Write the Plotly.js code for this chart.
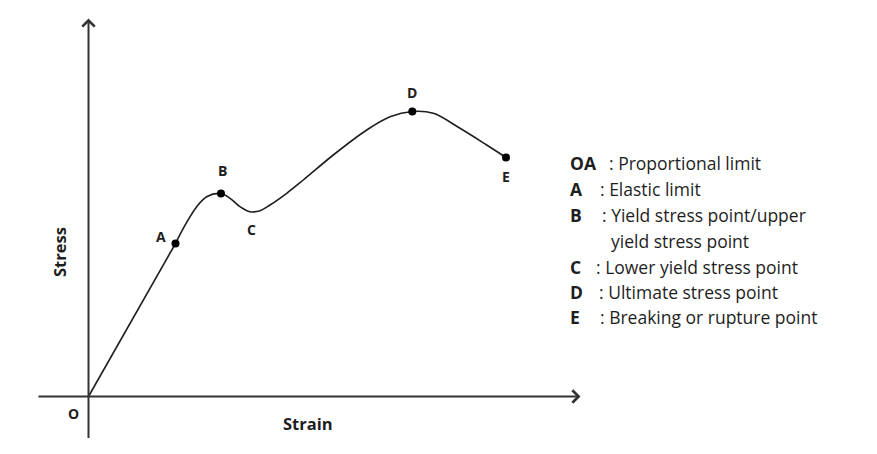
<!DOCTYPE html>
<html>
<head>
<meta charset="utf-8">
<script src="https://cdn.plot.ly/plotly-3.0.1.min.js"></script>
<style>html,body{margin:0;padding:0;background:#fff;}#chart{width:877px;height:454px;}</style>
</head>
<body>
<div id="chart"></div>
<script>
// Elastic (proportional) segment O -> A
const elasticStrain = [0, 0.87];
const elasticStress = [0, 1.53];

// Plastic curve A -> B -> C -> D -> E
const curveStrain = [0.87, 0.948, 1.082, 1.182, 1.325, 1.415, 1.515, 1.615, 1.715, 1.815, 1.982, 2.148, 2.448, 2.782, 3.015, 3.238, 3.448, 3.715, 3.982, 4.175];
const curveStress = [1.53, 1.682, 1.898, 1.998, 2.03, 1.982, 1.898, 1.848, 1.858, 1.915, 2.032, 2.165, 2.415, 2.665, 2.798, 2.85, 2.832, 2.682, 2.515, 2.39];

// Marked points
const pointNames = ["A", "B", "D", "E"];
const pointStrain = [0.87, 1.325, 3.238, 4.175];
const pointStress = [1.53, 2.03, 2.85, 2.39];

// Point labels
const labelText = ["O", "A", "B", "C", "D", "E"];
const labelStrain = [-0.152, 0.722, 1.342, 1.632, 3.232, 4.172];
const labelStress = [-0.168, 1.605, 2.258, 1.675, 3.045, 2.205];

// Axis extents
const xAxisStart = -0.515, xAxisEnd = 4.92;
const yAxisStart = -0.43, yAxisEnd = 3.78;

// Legend text
const legendKeys = ["OA", "A", "B", "", "C", "D", "E"];
const legendDesc = [": Proportional limit", ": Elastic limit", ": Yield stress point/upper", "yield stress point", ": Lower yield stress point", ": Ultimate stress point", ": Breaking or rupture point"];

const W = 877, H = 454;
const legendKeyX = [568, 568, 568, 568, 568, 568, 568];
const legendDescX = [607, 598, 600, 609, 594, 597, 598];
const legendY = [163, 189, 215, 241, 267, 292, 317];

const ink = "#1e1e1e";
const font = "'Open Sans', sans-serif";

const traces = [
  {x: elasticStrain, y: elasticStress, mode: "lines", line: {color: ink, width: 1.6}, hoverinfo: "skip", showlegend: false},
  {x: curveStrain, y: curveStress, mode: "lines", line: {color: ink, width: 1.6, shape: "spline", smoothing: 1}, hoverinfo: "skip", showlegend: false},
  {x: pointStrain, y: pointStress, text: pointNames, mode: "markers", marker: {color: "#000", size: 8}, hoverinfo: "text", showlegend: false}
];

const annotations = [];
// axis arrows
annotations.push({x: xAxisEnd, y: 0, ax: xAxisStart, ay: 0, xref: "x", yref: "y", axref: "x", ayref: "y", showarrow: true, arrowhead: 4, arrowsize: 1.2, arrowwidth: 2, arrowcolor: "#333", text: ""});
annotations.push({x: 0, y: yAxisEnd, ax: 0, ay: yAxisStart, xref: "x", yref: "y", axref: "x", ayref: "y", showarrow: true, arrowhead: 4, arrowsize: 1.2, arrowwidth: 2, arrowcolor: "#333", text: ""});

labelText.forEach((t, i) => {
  annotations.push({x: labelStrain[i], y: labelStress[i], xref: "x", yref: "y", xanchor: "center", yanchor: "middle", text: "<b>" + t + "</b>", showarrow: false, font: {family: font, size: 14, color: ink}});
});

annotations.push({x: 308 / W, y: 1 - 423 / H, xref: "paper", yref: "paper", xanchor: "center", yanchor: "middle", text: "<b>Strain</b>", showarrow: false, font: {family: font, size: 16.5, color: ink}});
annotations.push({x: 59 / W, y: 1 - 252 / H, xref: "paper", yref: "paper", xanchor: "center", yanchor: "middle", text: "<b>Stress</b>", textangle: -90, showarrow: false, font: {family: font, size: 16.5, color: ink}});

legendDesc.forEach((d, i) => {
  if (legendKeys[i]) {
    annotations.push({x: legendKeyX[i] / W, y: 1 - legendY[i] / H, xref: "paper", yref: "paper", xanchor: "left", yanchor: "middle", text: "<b>" + legendKeys[i] + "</b>", showarrow: false, font: {family: font, size: 17.5, color: ink}});
  }
  annotations.push({x: legendDescX[i] / W, y: 1 - legendY[i] / H, xref: "paper", yref: "paper", xanchor: "left", yanchor: "middle", text: d, showarrow: false, font: {family: font, size: 17.5, color: ink}});
});

const layout = {
  width: W, height: H,
  margin: {l: 0, r: 0, t: 0, b: 0},
  paper_bgcolor: "#fff", plot_bgcolor: "#fff",
  xaxis: {range: [-88.5 / 100, (W - 88.5) / 100], visible: false, fixedrange: true},
  yaxis: {range: [-(H - 396.5) / 100, 396.5 / 100], visible: false, fixedrange: true},
  annotations: annotations,
  showlegend: false
};

Plotly.newPlot("chart", traces, layout, {displayModeBar: false, staticPlot: true});
</script>
</body>
</html>
